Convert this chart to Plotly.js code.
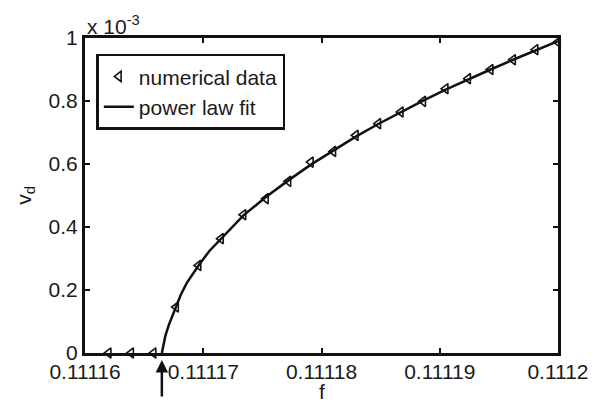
<!DOCTYPE html>
<html>
<head>
<meta charset="utf-8">
<script src="https://cdn.plot.ly/plotly-3.0.1.min.js"></script>
<style>html,body{margin:0;padding:0;background:#fff;}#chart{width:601px;height:403px;}</style>
</head>
<body>
<div id="chart"></div>
<script>
// numerical data (v_d in units of 1e-3)
const dataF = [0.111162, 0.1111639, 0.1111658, 0.1111677, 0.1111696, 0.1111715, 0.1111734,
  0.1111753, 0.1111772, 0.1111791, 0.111181, 0.1111829, 0.1111848, 0.1111867, 0.1111886,
  0.1111905, 0.1111924, 0.1111943, 0.1111962, 0.1111981, 0.1112];
const dataV = [0, 0, 0, 0.146, 0.278, 0.363, 0.439, 0.490, 0.545, 0.606, 0.640, 0.691,
  0.728, 0.765, 0.799, 0.839, 0.871, 0.900, 0.931, 0.963, 0.987];
// power law fit curve
const fitF = [0.1111665, 0.1111668, 0.1111671, 0.1111674, 0.1111677, 0.1111681, 0.1111686,
  0.1111691, 0.1111696, 0.1111705, 0.1111715, 0.1111734, 0.1111753, 0.1111772, 0.1111791,
  0.111181, 0.1111829, 0.1111848, 0.1111867, 0.1111886, 0.1111905, 0.1111924, 0.1111943,
  0.1111962, 0.1111981, 0.1112];
const fitV = [0, 0.055, 0.09, 0.12, 0.15, 0.185, 0.222, 0.252, 0.278, 0.323, 0.363, 0.437,
  0.495, 0.548, 0.598, 0.642, 0.687, 0.727, 0.765, 0.801, 0.836, 0.869, 0.900, 0.931,
  0.961, 0.99];
const fc = 0.1111665;
const xTicks = [0.11116, 0.11117, 0.11118, 0.11119, 0.1112];
const xTickText = ['0.11116', '0.11117', '0.11118', '0.11119', '0.1112'];
const yTicks = [0, 0.2, 0.4, 0.6, 0.8, 1];
const yTickText = ['0', '0.2', '0.4', '0.6', '0.8', '1'];

const font = {family: 'Liberation Sans, Arial, sans-serif', size: 21, color: '#1a1a1a'};
const legFont = {family: 'Liberation Sans, Arial, sans-serif', size: 21, color: '#1a1a1a'};

const traces = [
  {x: dataF, y: dataV, type: 'scatter', mode: 'markers', name: 'numerical data',
   marker: {symbol: 'triangle-left-open', size: 9, color: '#111', line: {width: 1.6, color: '#111'}},
   cliponaxis: false},
  {x: fitF, y: fitV, type: 'scatter', mode: 'lines', name: 'power law fit',
   line: {color: '#111', width: 2.5}, cliponaxis: false}
];

const layout = {
  width: 601, height: 403,
  margin: {l: 85, r: 43, t: 38, b: 50},
  paper_bgcolor: '#fff', plot_bgcolor: '#fff',
  font: font,
  showlegend: true,
  legend: {x: 0.024, y: 0.95, xanchor: 'left', yanchor: 'top', bgcolor: '#fff',
    bordercolor: '#111', borderwidth: 2.5, font: legFont, tracegroupgap: 0},
  xaxis: {range: [0.11116, 0.1112], tickvals: xTicks, ticktext: xTickText,
    showgrid: false, zeroline: false, showline: true, linecolor: '#111', linewidth: 3,
    mirror: 'ticks', ticks: 'inside', ticklen: 5, tickwidth: 2, tickcolor: '#111',
    ticklabelstandoff: -2},
  yaxis: {range: [0, 1], tickvals: yTicks, ticktext: yTickText,
    showgrid: false, zeroline: false, showline: true, linecolor: '#111', linewidth: 3,
    mirror: 'ticks', ticks: 'inside', ticklen: 5, tickwidth: 2, tickcolor: '#111',
    title: {text: 'v<sub>d</sub>', font: font, standoff: 12}},
  annotations: [
    {xref: 'paper', yref: 'paper', x: 0, y: 1, xanchor: 'left', yanchor: 'bottom',
     text: 'x 10<sup>-3</sup>', showarrow: false, font: font, yshift: -2},
    {xref: 'paper', yref: 'paper', x: 0.5, y: 0, xanchor: 'center', yanchor: 'middle',
     text: 'f', showarrow: false, font: font, yshift: -38},
    {x: fc, y: 0, xref: 'x', yref: 'y', text: '', showarrow: true, ax: 0, ay: 45,
     standoff: 7, arrowhead: 2, arrowsize: 1, arrowwidth: 2.5, arrowcolor: '#111'}
  ]
};

Plotly.newPlot('chart', traces, layout, {displayModeBar: false, staticPlot: true});
</script>
</body>
</html>
